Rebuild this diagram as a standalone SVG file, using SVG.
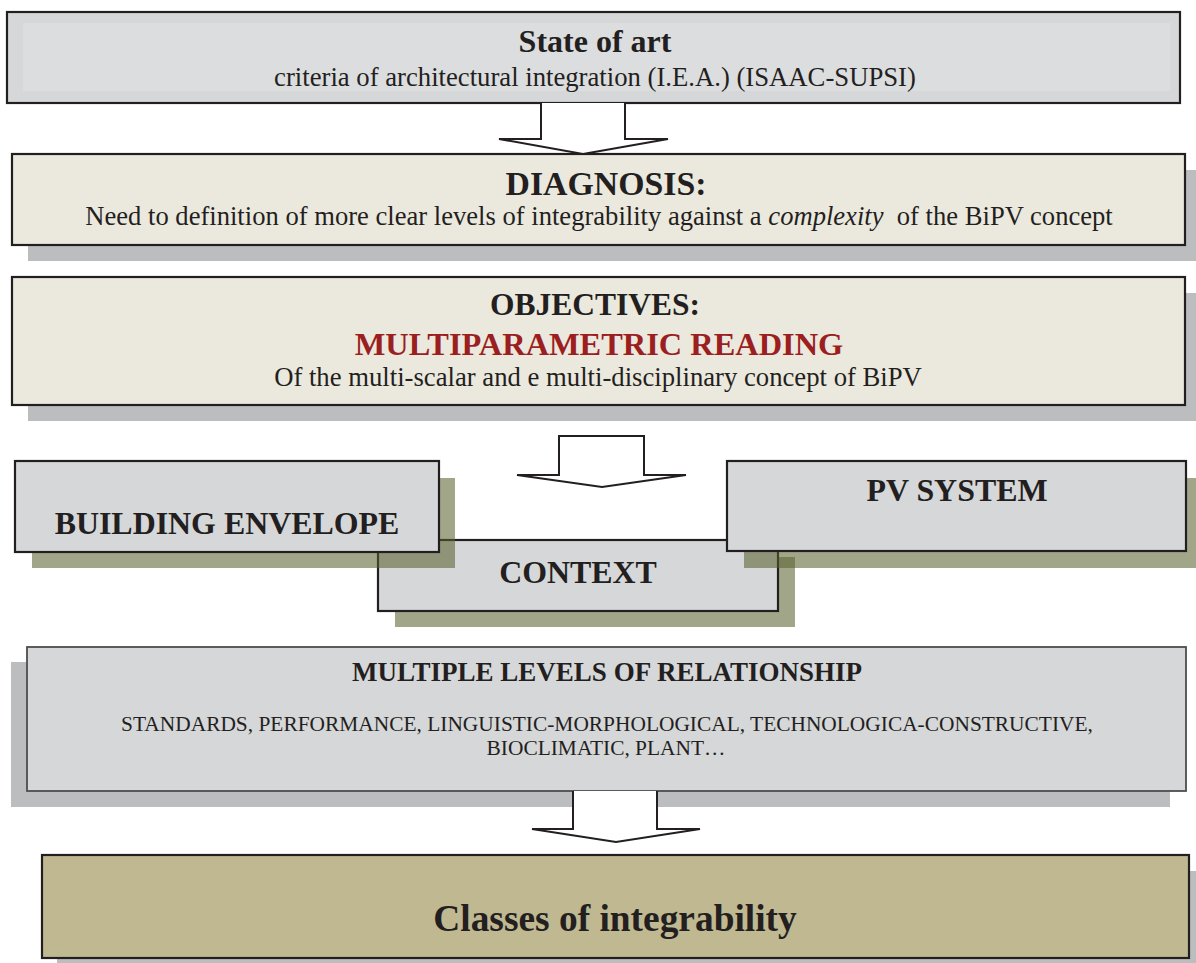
<svg xmlns="http://www.w3.org/2000/svg" width="1196" height="963" viewBox="0 0 1196 963">
<style>
.box{stroke:#231f20;stroke-width:2.2}
.gray{fill:#d6d7d9}
.beige{fill:#ebe8de}
.olive{fill:#c0b891}
.gshadow{fill:#bcbdbf}
.oshadow{fill:#57602c;fill-opacity:0.56}
.arrow{fill:#ffffff;stroke:#231f20;stroke-width:2;stroke-linejoin:miter}
text{font-family:"Liberation Serif","Times New Roman",serif;fill:#231f20;text-anchor:middle}
.b{font-weight:bold}
.red{fill:#9b1f1f}
</style>
<rect width="1196" height="963" fill="#ffffff"/>

<g id="state-of-art">
<rect class="box gray" x="7" y="12" width="1173" height="91"/>
<rect x="23" y="23" width="1147" height="68" fill="#dcdddf"/>
<text class="b" x="595" y="52" font-size="32">State of art</text>
<text x="595" y="86" font-size="26.7">criteria of architectural integration (I.E.A.) (ISAAC-SUPSI)</text>
</g>

<g id="diagnosis">
<rect class="gshadow" x="28" y="170" width="1168" height="91"/>
<rect class="box beige" x="12" y="154" width="1173" height="91"/>
<text class="b" x="606" y="195" font-size="33.8">DIAGNOSIS:</text>
<text x="599" y="225" font-size="26.6">Need to definition of more clear levels of integrability against a <tspan font-style="italic">complexity</tspan>&#160; of the BiPV concept</text>
</g>

<g id="objectives">
<rect class="gshadow" x="28" y="293" width="1168" height="128"/>
<rect class="box beige" x="12" y="277" width="1173" height="128"/>
<text class="b" x="595" y="315" font-size="31.5">OBJECTIVES:</text>
<text class="b red" x="599" y="355" font-size="32.4">MULTIPARAMETRIC READING</text>
<text x="598" y="386" font-size="26.7">Of the multi-scalar and e multi-disciplinary concept of BiPV</text>
</g>

<g id="context">
<rect class="oshadow" x="395" y="557" width="400" height="70"/>
<rect class="box gray" x="378" y="540" width="400" height="71"/>
<text class="b" x="578" y="583" font-size="31.9">CONTEXT</text>
</g>

<g id="building-envelope">
<rect class="oshadow" x="32" y="478" width="423" height="90"/>
<rect class="box gray" x="15" y="461" width="424" height="91"/>
<text class="b" x="227" y="534" font-size="31.9">BUILDING ENVELOPE</text>
</g>

<g id="pv-system">
<rect class="oshadow" x="744" y="478" width="452" height="90"/>
<rect class="box gray" x="727" y="461" width="459" height="90"/>
<text class="b" x="957" y="501" font-size="31.9">PV SYSTEM</text>
</g>

<g id="multiple-levels">
<rect class="gshadow" x="11" y="662" width="1159" height="145"/>
<rect class="gray" x="27" y="647" width="1159" height="144" stroke="#4d4d4f" stroke-width="1.8"/>
<text class="b" x="607" y="681" font-size="27">MULTIPLE LEVELS OF RELATIONSHIP</text>
<text x="607" y="731" font-size="21.4">STANDARDS, PERFORMANCE, LINGUISTIC-MORPHOLOGICAL, TECHNOLOGICA-CONSTRUCTIVE,</text>
<text x="606" y="755" font-size="21.4">BIOCLIMATIC, PLANT…</text>
</g>

<g id="classes">
<rect class="gshadow" x="57" y="871" width="1139" height="92"/>
<rect class="box olive" x="42" y="855" width="1147" height="103"/>
<text class="b" x="615" y="931" font-size="37.4">Classes of integrability</text>
</g>

<g id="connectors">
<path class="arrow" d="M541,103 L541,139 L499,139 L583,154 L668,139 L625,139 L625,103"/>
<path class="arrow" d="M559,436 L559,475 L517,475 L602,487 L686,475 L644,475 L644,436 Z"/>
<path class="arrow" d="M573,791 L573,829 L532,829 L616,842 L700,829 L657,829 L657,791"/>
</g>
</svg>
